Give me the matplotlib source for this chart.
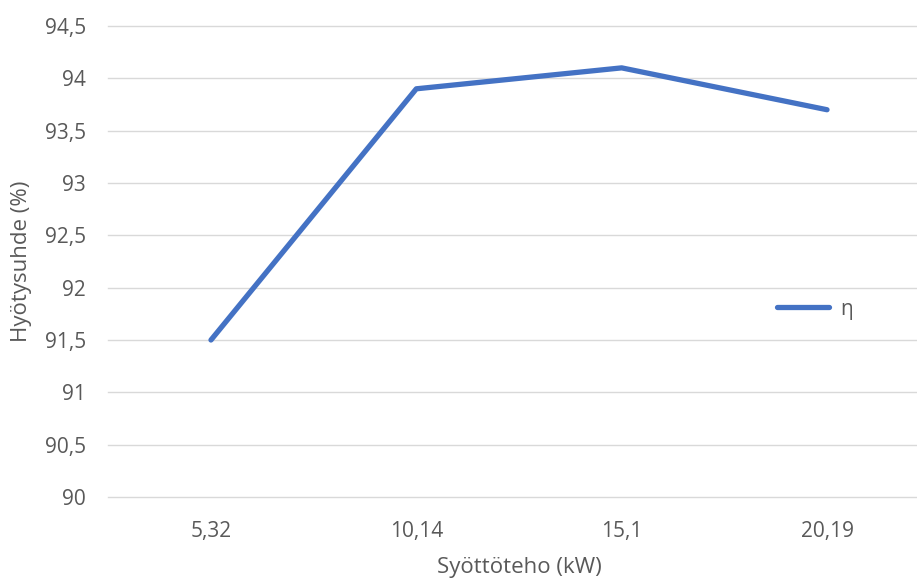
import matplotlib.pyplot as plt
from matplotlib.ticker import FuncFormatter, MultipleLocator

plt.rcParams['font.family'] = ['Open Sans', 'DejaVu Sans']

teho = ['5,32', '10,14', '15,1', '20,19']
hyotysuhde = [91.5, 93.9, 94.1, 93.7]

fig = plt.figure(figsize=(9.17, 5.78), dpi=100)
ax = fig.add_axes([108.3 / 917, 1 - 497 / 578, 821.4 / 917, 471 / 578])

x = range(len(teho))
ax.plot(x, hyotysuhde, color='#4472C4', lw=3.8, solid_capstyle='round',
        solid_joinstyle='round', label='η', zorder=3)

ax.set_xlim(-0.5, len(teho) - 0.5)
ax.set_ylim(90, 94.5)
ax.set_xticks(list(x))
ax.set_xticklabels(teho)
ax.yaxis.set_major_locator(MultipleLocator(0.5))
ax.yaxis.set_major_formatter(FuncFormatter(lambda v, p: f'{v:g}'.replace('.', ',')))

ax.grid(axis='y', color='#D9D9D9', lw=1.0)
for g in ax.yaxis.get_gridlines():
    g.set_clip_on(False)
ax.set_axisbelow(True)
for s in ax.spines.values():
    s.set_visible(False)
ax.tick_params(axis='both', length=0, labelsize=15, labelcolor='#595959')
ax.tick_params(axis='y', pad=16)
ax.tick_params(axis='x', pad=17)

ax.set_xlabel('Syöttöteho (kW)', fontsize=16, color='#595959', labelpad=11)
ax.set_ylabel('Hyötysuhde (%)', fontsize=16, color='#595959', labelpad=9)

ax.legend(loc='center left', bbox_to_anchor=(777 / 917, 1 - 309 / 578),
          bbox_transform=fig.transFigure, frameon=False, fontsize=15,
          handlelength=2.5, handletextpad=0.55, borderpad=0, borderaxespad=0,
          labelcolor='#595959')

fig.savefig('out.png', dpi=100)
